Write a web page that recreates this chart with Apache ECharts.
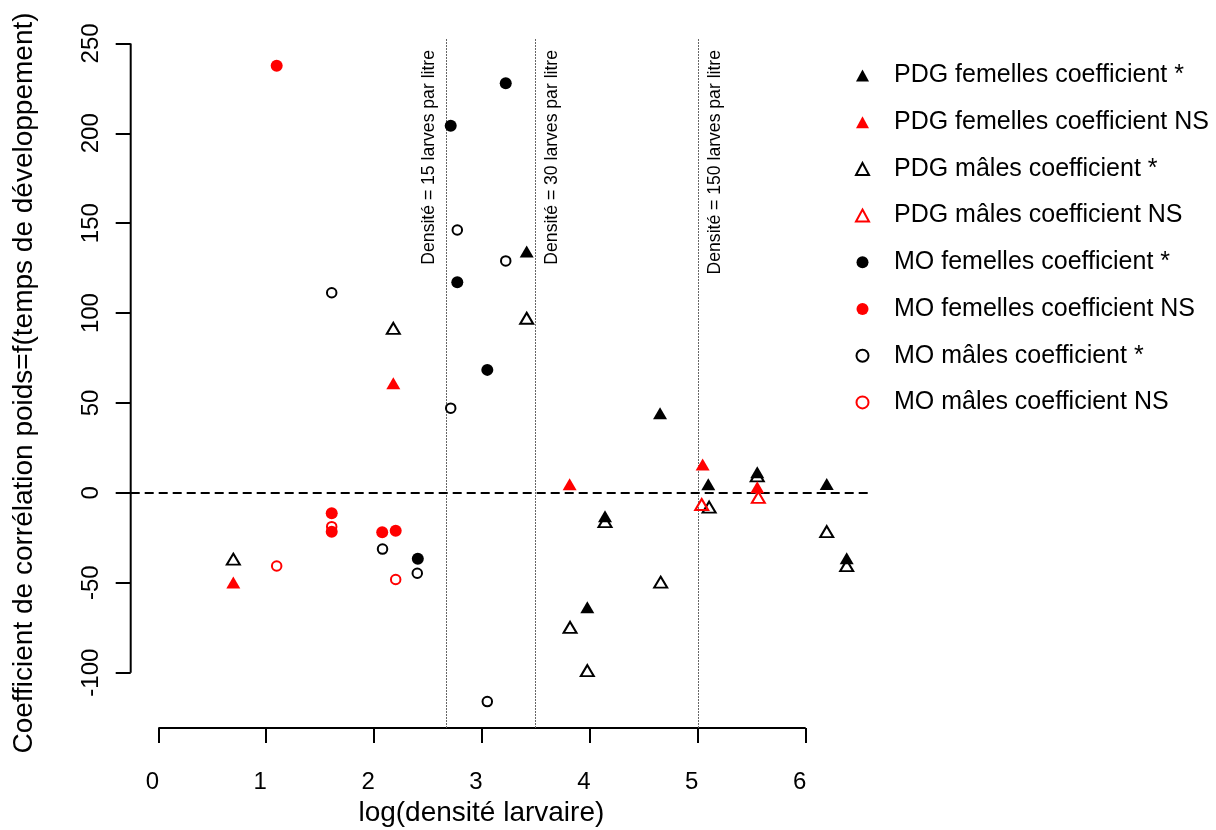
<!DOCTYPE html>
<html>
<head>
<meta charset="utf-8">
<script src="https://cdn.jsdelivr.net/npm/echarts@6/dist/echarts.min.js"></script>
<style>html,body{margin:0;padding:0;background:#fff}#c{width:1216px;height:830px}</style>
</head>
<body>
<div id="c"></div>
<script>
// ---- Data ----
const seriesNames = [
  'PDG femelles coefficient *',
  'PDG femelles coefficient NS',
  'PDG mâles coefficient *',
  'PDG mâles coefficient NS',
  'MO femelles coefficient *',
  'MO femelles coefficient NS',
  'MO mâles coefficient *',
  'MO mâles coefficient NS'
];

const pdgFemSigX = [3.414, 4.650, 4.140, 3.976, 5.097, 5.551, 6.195, 6.380];
const pdgFemSigY = [134.2, 44.3, -13.0, -63.6, 4.8, 11.4, 4.9, -36.4];

const pdgFemNsX = [2.178, 0.695, 3.812, 5.045, 5.551];
const pdgFemNsY = [61.0, -49.9, 4.8, 15.8, 3.1];

const pdgMaleSigX = [2.178, 3.414, 0.695, 4.140, 3.816, 3.976, 4.656, 5.105, 5.551, 6.195, 6.380];
const pdgMaleSigY = [91.5, 97.1, -36.9, -16.0, -74.8, -98.9, -49.7, -7.9, 9.4, -21.6, -40.5];

const pdgMaleNsX = [5.036, 5.561];
const pdgMaleNsY = [-6.5, -2.5];

const moFemSigX = [2.710, 3.220, 2.771, 3.049, 2.405];
const moFemSigY = [204.2, 227.8, 117.1, 68.4, -36.6];

const moFemNsX = [1.097, 1.607, 1.607, 2.075, 2.200];
const moFemNsY = [237.6, -11.3, -21.6, -21.9, -21.1];

const moMaleSigX = [1.607, 2.771, 3.220, 2.710, 2.078, 2.400, 3.049];
const moMaleSigY = [111.3, 146.2, 129.0, 47.1, -31.3, -44.7, -116.1];

const moMaleNsX = [1.607, 1.097, 2.200];
const moMaleNsY = [-18.8, -40.7, -48.2];

const refLineX = [2.673, 3.490, 5.005];
const refLabels = ['Densité = 15 larves par litre', 'Densité = 30 larves par litre', 'Densité = 150 larves par litre'];
const refLabelSide = ['left', 'right', 'right'];

const xTicks = [0, 1, 2, 3, 4, 5, 6];
const yTicks = [-100, -50, 0, 50, 100, 150, 200, 250];
const xRange = [-0.256, 6.596];
const yRange = [-130.8, 253.0];

const xTitle = 'log(densité larvaire)';
const yTitle = 'Coefficient de corrélation poids=f(temps de développement)';

// ---- Chart ----
const FONT = '"Liberation Sans", Arial, Helvetica, sans-serif';
const RED = '#ff0000';
const BLACK = '#000000';
const CLEAR = 'rgba(255,255,255,0)';

function zip(xs, ys) { return xs.map((x, i) => [x, ys[i]]); }

function scatter(name, xs, ys, symbol, color, filled, size) {
  return {
    name: name,
    type: 'scatter',
    data: zip(xs, ys),
    symbol: symbol,
    symbolSize: size,
    itemStyle: filled
      ? { color: color, borderWidth: 0, opacity: 1 }
      : { color: CLEAR, borderColor: color, borderWidth: 2, opacity: 1 },
    emphasis: { disabled: true },
    silent: true,
    z: 5
  };
}

const series = [
  scatter(seriesNames[0], pdgFemSigX, pdgFemSigY, 'triangle', BLACK, true, [14, 12]),
  scatter(seriesNames[2], pdgMaleSigX, pdgMaleSigY, 'triangle', BLACK, false, [13, 11]),
  scatter(seriesNames[1], pdgFemNsX, pdgFemNsY, 'triangle', RED, true, [14, 12]),
  scatter(seriesNames[3], pdgMaleNsX, pdgMaleNsY, 'triangle', RED, false, [13, 11]),
  scatter(seriesNames[4], moFemSigX, moFemSigY, 'circle', BLACK, true, 12),
  scatter(seriesNames[5], moFemNsX, moFemNsY, 'circle', RED, true, 12),
  scatter(seriesNames[6], moMaleSigX, moMaleSigY, 'circle', BLACK, false, 9.5),
  scatter(seriesNames[7], moMaleNsX, moMaleNsY, 'circle', RED, false, 9.5)
];

// reference lines (dotted verticals with labels, dashed zero line)
const markData = refLineX.map((v, i) => ({
  xAxis: v,
  lineStyle: { type: [2, 1], color: '#666', width: 1 },
  label: {
    show: true,
    formatter: refLabels[i],
    position: refLabelSide[i] === 'left' ? 'insideEndTop' : 'insideEndBottom',
    distance: [12, 8],
    fontSize: 17.6,
    fontFamily: FONT,
    color: '#000'
  }
}));
markData.push({
  yAxis: 0,
  lineStyle: { type: [9, 5], color: '#000', width: 2 },
  label: { show: false }
});

series.push({
  name: '__ref',
  type: 'line',
  data: [],
  silent: true,
  markLine: {
    silent: true,
    symbol: ['none', 'none'],
    animation: false,
    data: markData
  },
  z: 2
});

// axis lines spanning first..last tick (R style)
series.push({
  name: '__xaxis',
  type: 'line',
  data: [[xTicks[0], yRange[0]], [xTicks[xTicks.length - 1], yRange[0]]],
  symbol: 'none',
  lineStyle: { color: '#000', width: 2 },
  clip: false,
  silent: true,
  z: 3
});
series.push({
  name: '__yaxis',
  type: 'line',
  data: [[xRange[0], yTicks[0]], [xRange[0], yTicks[yTicks.length - 1]]],
  symbol: 'none',
  lineStyle: { color: '#000', width: 2 },
  clip: false,
  silent: true,
  z: 3
});

const option = {
  animation: false,
  backgroundColor: '#fff',
  textStyle: { fontFamily: FONT },
  grid: {
    left: 130.7, right: 346, top: 38, bottom: 102,
    containLabel: false,
    outerBoundsMode: 'none'
  },
  xAxis: {
    type: 'value',
    min: xRange[0],
    max: xRange[1],
    axisLine: { show: false, onZero: false },
    splitLine: { show: false },
    axisTick: {
      show: true, customValues: xTicks, length: 15,
      lineStyle: { color: '#000', width: 2 }
    },
    axisLabel: {
      customValues: xTicks, fontSize: 24, color: '#000', fontFamily: FONT,
      margin: 42, padding: [0, 12, 0, 0]
    },
    name: xTitle,
    nameLocation: 'middle',
    nameGap: 70,
    nameTextStyle: { fontSize: 28, color: '#000', fontFamily: FONT, padding: [0, 38, 0, 0] }
  },
  yAxis: {
    type: 'value',
    min: yRange[0],
    max: yRange[1],
    axisLine: { show: false, onZero: false },
    splitLine: { show: false },
    axisTick: {
      show: true, customValues: yTicks, length: 15,
      lineStyle: { color: '#000', width: 2 }
    },
    axisLabel: {
      customValues: yTicks, fontSize: 24, color: '#000', fontFamily: FONT,
      rotate: 90, margin: 27
    },
    name: yTitle,
    nameLocation: 'middle',
    nameGap: 92,
    nameTextStyle: { fontSize: 28, color: '#000', fontFamily: FONT }
  },
  legend: {
    orient: 'vertical',
    left: 850,
    top: 58,
    itemWidth: 13,
    itemHeight: 12,
    itemGap: 21.7,
    selectedMode: false,
    data: seriesNames,
    textStyle: { fontSize: 25, lineHeight: 25, color: '#000', fontFamily: FONT, padding: [0, 0, 0, 20] }
  },
  series: series
};

const chart = echarts.init(document.getElementById('c'), null, { renderer: 'canvas' });
chart.setOption(option);
</script>
</body>
</html>
